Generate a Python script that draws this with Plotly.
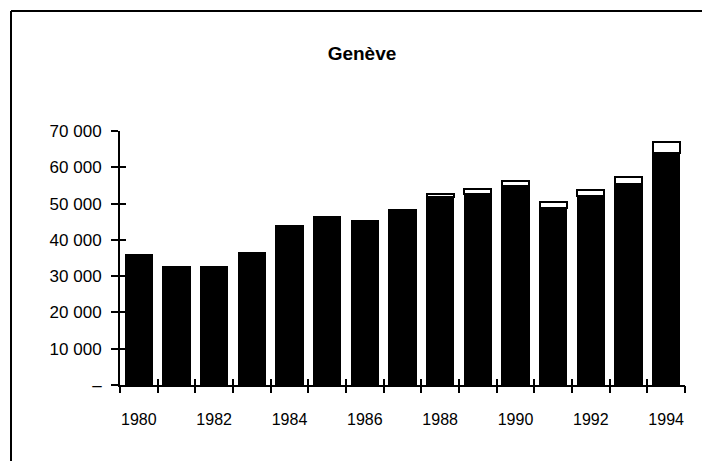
import plotly.graph_objects as go

# Genève, 1980-1994
years = list(range(1980, 1995))
base_vals = [36000, 32700, 32700, 36500, 44000, 46400, 45300, 48300,
             51700, 52600, 54800, 48900, 52000, 55400, 64000]
top_vals = [None, None, None, None, None, None, None, None,
            1000, 1500, 1500, 1600, 1800, 2000, 3000]

y_ticks = [0, 10000, 20000, 30000, 40000, 50000, 60000, 70000]
y_labels = ["\u2013", "10 000", "20 000", "30 000", "40 000", "50 000", "60 000", "70 000"]
x_label_years = [1980, 1982, 1984, 1986, 1988, 1990, 1992, 1994]

FONT = "Liberation Sans Narrow, Arial Narrow, Liberation Sans, Arial, sans-serif"
x_range = [years[0] - 0.5, years[-1] + 0.5]
y_range = [0, 70000]
bounds = [y - 0.5 for y in years] + [years[-1] + 0.5]

fig = go.Figure()
fig.add_trace(go.Bar(x=years, y=base_vals, marker=dict(color="black", line=dict(color="black", width=1))))
fig.add_trace(go.Bar(x=years, y=top_vals, marker=dict(color="white", line=dict(color="black", width=2))))

# invisible traces so the overlaid tick axes are drawn
fig.add_trace(go.Scatter(x=[None], y=[None], xaxis="x2", yaxis="y2", showlegend=False))
fig.add_trace(go.Scatter(x=[None], y=[None], xaxis="x3", yaxis="y3", showlegend=False))

fig.update_layout(
    width=702,
    height=461,
    margin=dict(l=120, r=17, t=131, b=76),
    paper_bgcolor="white",
    plot_bgcolor="white",
    barmode="stack",
    bargap=0.28,
    showlegend=False,
    font=dict(family=FONT, size=15, color="black"),
    title=dict(text="<b>Genève</b>", x=362 / 702, xref="container", xanchor="center",
               y=1 - 53 / 461, yref="container", yanchor="middle",
               font=dict(family="Liberation Sans, Arial, sans-serif", size=19, color="black")),
    xaxis=dict(range=x_range, tickvals=x_label_years, ticktext=[str(y) for y in x_label_years],
               ticks="", showgrid=False, zeroline=False, showline=True, linecolor="black",
               linewidth=2, ticklabelstandoff=19, tickfont=dict(size=16)),
    yaxis=dict(range=y_range, tickvals=y_ticks, ticktext=y_labels, ticks="outside",
               ticklen=7, tickwidth=2, tickcolor="black", showgrid=False, zeroline=False,
               showline=True, linecolor="black", linewidth=2, ticklabelstandoff=6,
               tickfont=dict(size=17)),
    xaxis2=dict(range=x_range, overlaying="x", anchor="y", tickvals=bounds, ticks="outside",
                ticklen=7, tickwidth=2, tickcolor="black", showticklabels=False,
                showgrid=False, zeroline=False, showline=False),
    xaxis3=dict(range=x_range, overlaying="x", anchor="y", tickvals=bounds, ticks="inside",
                ticklen=6, tickwidth=2, tickcolor="black", showticklabels=False,
                showgrid=False, zeroline=False, showline=False),
    yaxis2=dict(range=y_range, overlaying="y", anchor="x", tickvals=y_ticks, ticks="inside",
                ticklen=6, tickwidth=2, tickcolor="black", showticklabels=False,
                showgrid=False, zeroline=False, showline=False),
    yaxis3=dict(range=y_range, overlaying="y", anchor="x", showticklabels=False,
                showgrid=False, zeroline=False, showline=False, ticks=""),
)

# page frame of the scanned figure (left and top edges)
fig.add_shape(type="line", xref="paper", yref="paper", x0=(11 - 120) / 565, x1=(11 - 120) / 565,
              y0=(385 - 461) / 254, y1=(385 - 11) / 254, line=dict(color="black", width=2))
fig.add_shape(type="line", xref="paper", yref="paper", x0=(11 - 120) / 565, x1=(702 - 120) / 565,
              y0=(385 - 11) / 254, y1=(385 - 11) / 254, line=dict(color="black", width=2))

fig.write_html("out.html", config={"displayModeBar": False},
               post_script="document.body.style.margin='0';")
